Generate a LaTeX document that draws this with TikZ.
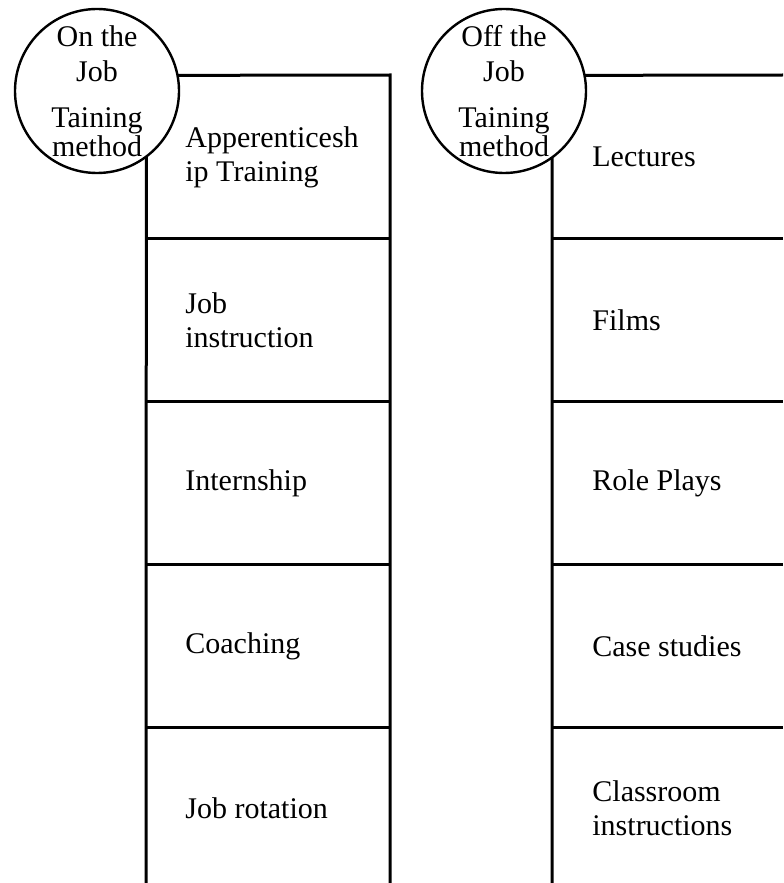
\documentclass[tikz,border=0pt]{standalone}
\usepackage{fontspec}
\setmainfont{Liberation Serif}
\begin{document}
\begin{tikzpicture}
        [x=0.5pt,y=-0.5pt,
        head/.style={circle, draw=black, line width=1.2pt, minimum size=82pt,
            inner sep=0pt, outer sep=0pt, align=center,
            font=\fontsize{15}{17.5}\selectfont},
        item/.style={anchor=west, inner sep=0pt, align=left,
            font=\fontsize{15}{17}\selectfont},
        line/.style={line width=1.5pt}]
        \useasboundingbox (0,0) rectangle (783,883);
        % on the job column
        \node[head] (on) at (97,91) {On the\\ Job\\[5.5pt] Taining\\[-3pt] method};
        \coordinate (ltop) at (390,75);
        \coordinate (lbot) at (390,883);
        \coordinate (lend) at (146,883);
        \coordinate (la1) at (146,238);
        \coordinate (la2) at (146,401);
        \coordinate (la3) at (146,564);
        \coordinate (la4) at (146,727);
        \coordinate (lb1) at (390,238);
        \coordinate (lb2) at (390,401);
        \coordinate (lb3) at (390,564);
        \coordinate (lb4) at (390,727);
        \draw[line] (on.11) -- (ltop) -- (lbot);
        \draw[line] (on.-53) -- (lend);
        \draw[line] (la1) -- (lb1);
        \draw[line] (la2) -- (lb2);
        \draw[line] (la3) -- (lb3);
        \draw[line] (la4) -- (lb4);
        \node[item] (appr) at (185,157) {Apperenticesh\\ip Training};
        \node[item] (jobi) at (185,320) {Job\\instruction};
        \node[item] (intern) at (185,483) {Internship};
        \node[item] (coach) at (185,646) {Coaching};
        \node[item] (jobr) at (185,808) {Job rotation};
        % off the job column
        \node[head] (off) at (504,91) {Off the\\ Job\\[5.5pt] Taining\\[-3pt] method};
        \coordinate (rtop) at (783,75);
        \coordinate (rend) at (552,883);
        \coordinate (ra1) at (552,238);
        \coordinate (ra2) at (552,401);
        \coordinate (ra3) at (552,564);
        \coordinate (ra4) at (552,727);
        \coordinate (rb1) at (783,238);
        \coordinate (rb2) at (783,401);
        \coordinate (rb3) at (783,564);
        \coordinate (rb4) at (783,727);
        \draw[line] (off.11) -- (rtop);
        \draw[line] (off.-54) -- (rend);
        \draw[line] (ra1) -- (rb1);
        \draw[line] (ra2) -- (rb2);
        \draw[line] (ra3) -- (rb3);
        \draw[line] (ra4) -- (rb4);
        \node[item] (lect) at (592,157) {Lectures};
        \node[item] (films) at (592,320) {Films};
        \node[item] (role) at (592,483) {Role Plays};
        \node[item] (case) at (592,646) {Case studies};
        \node[item] (class) at (592,808) {Classroom\\instructions};
\end{tikzpicture}
\end{document}
